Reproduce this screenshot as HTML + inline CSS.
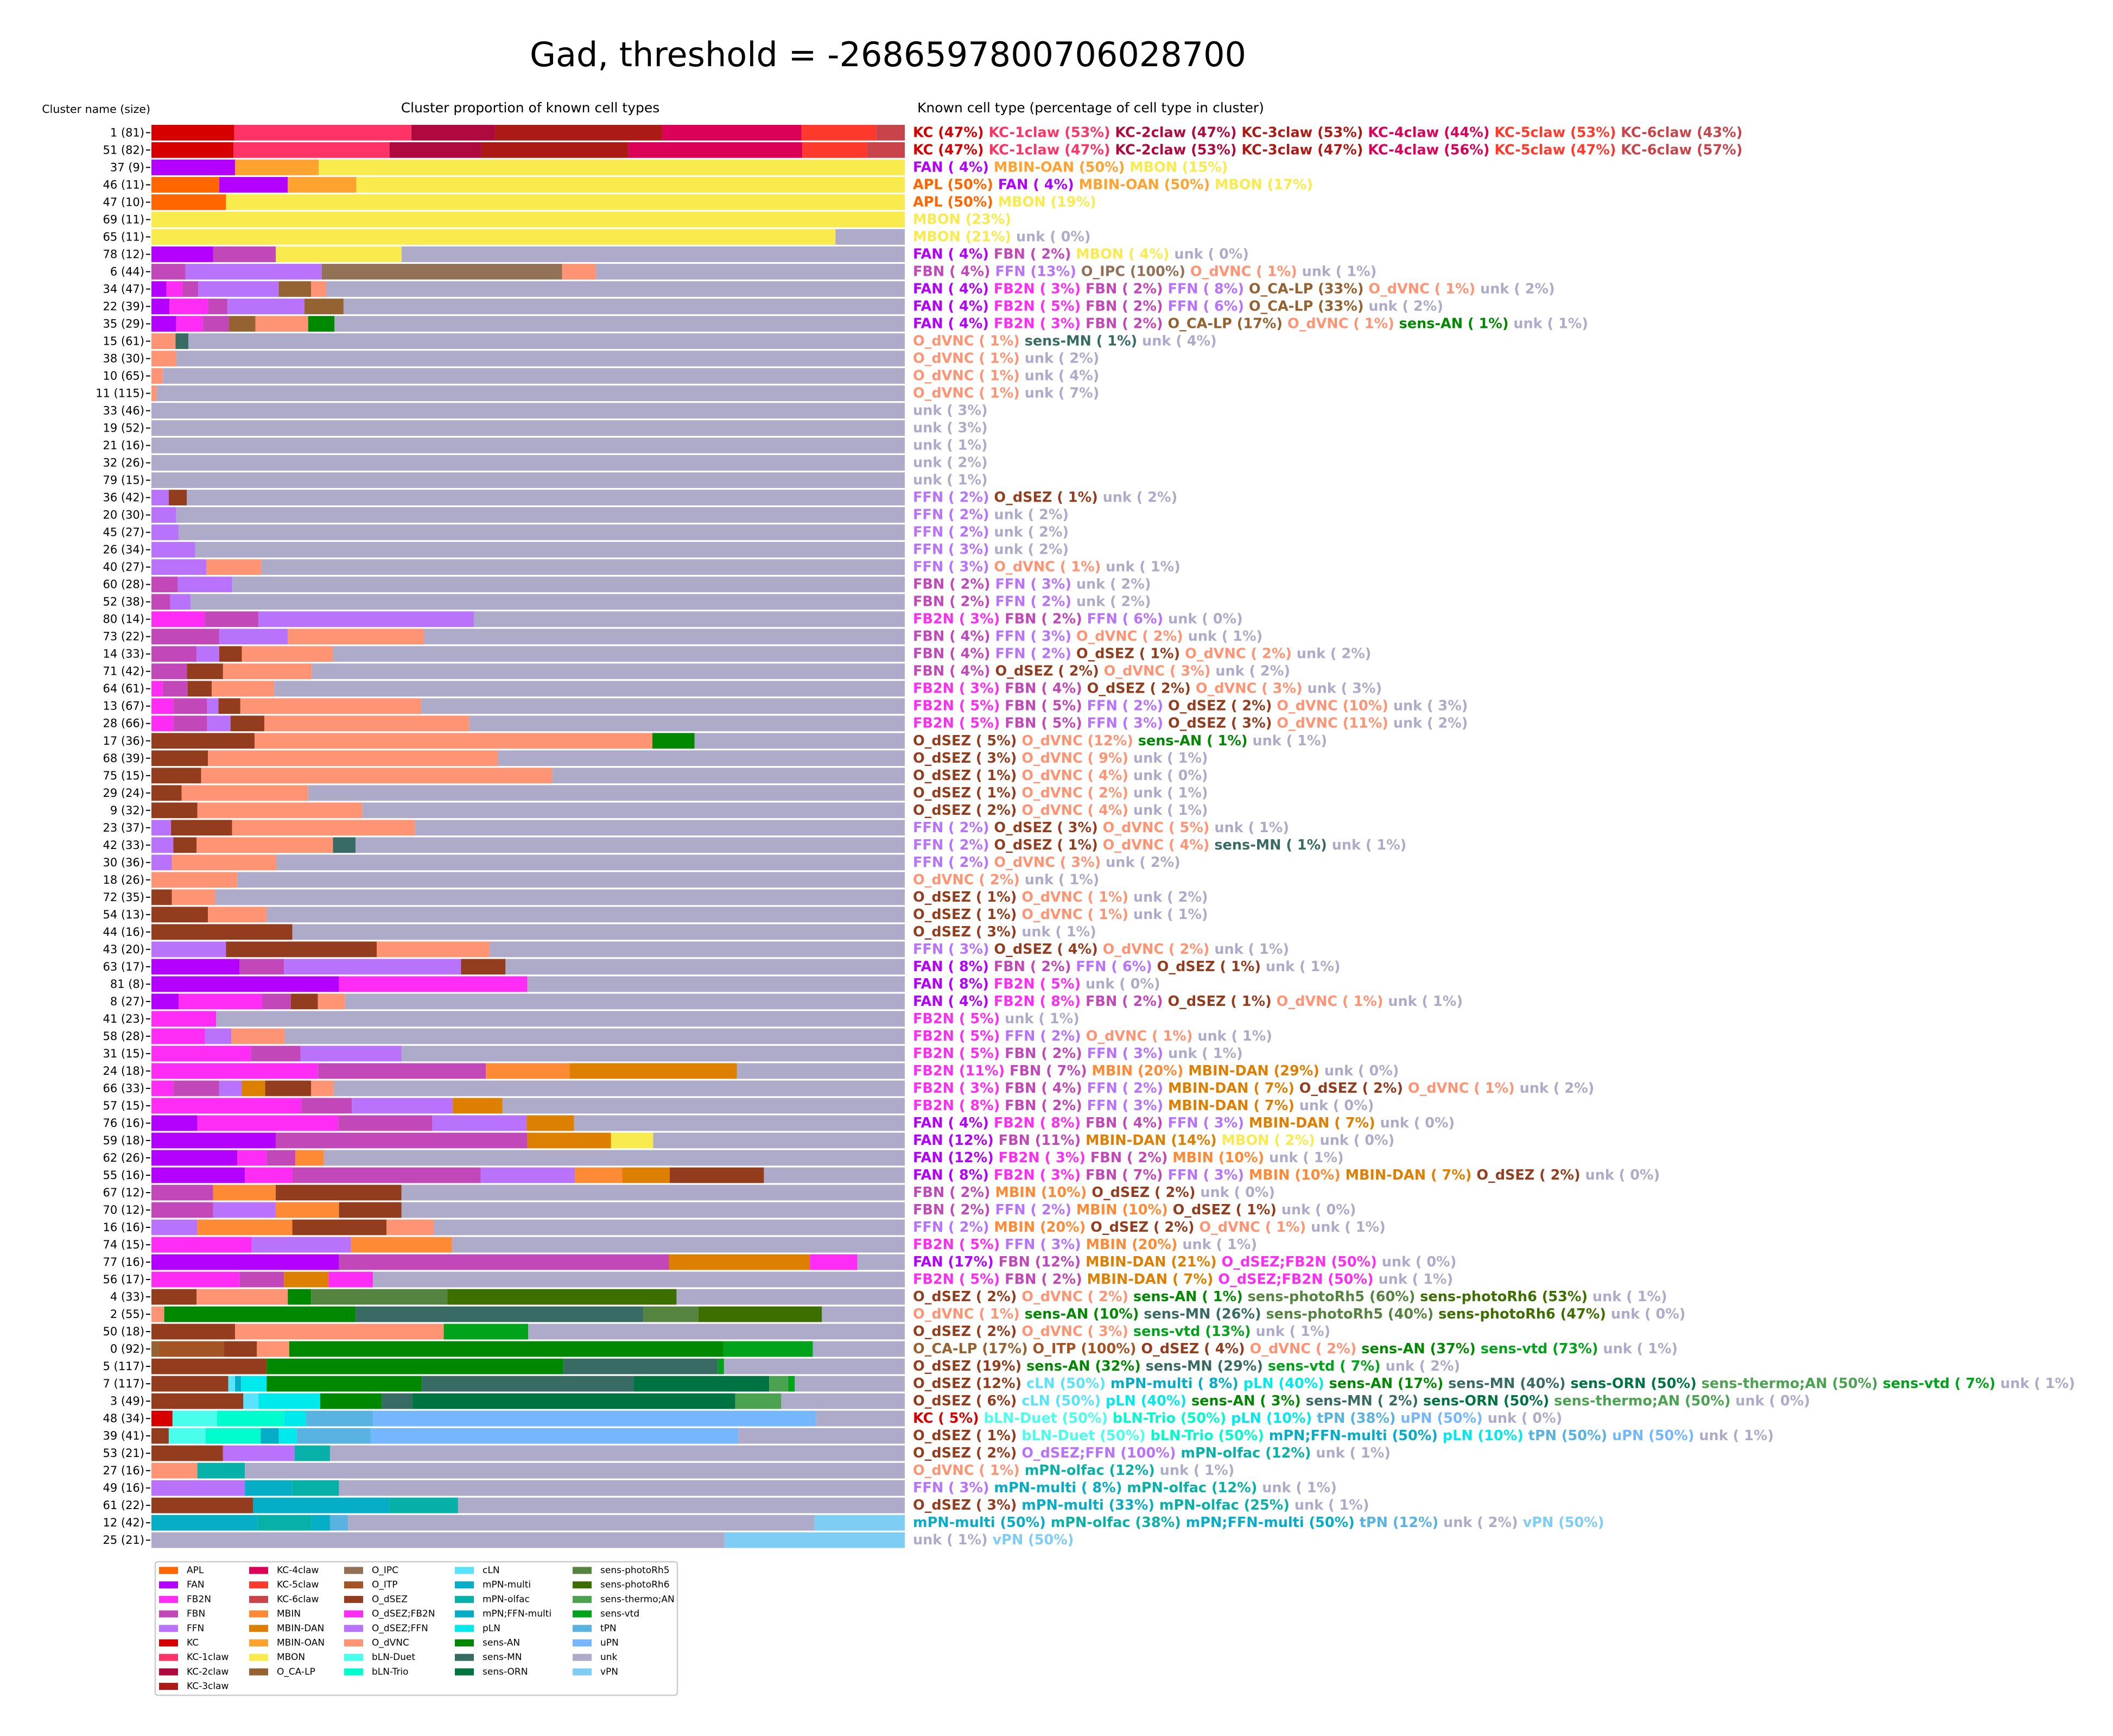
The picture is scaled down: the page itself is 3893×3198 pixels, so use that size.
<!DOCTYPE html>
<html><head><meta charset="utf-8"><style>
html,body{margin:0;padding:0;background:#fff;}
svg{display:block;font-family:"DejaVu Sans","Liberation Sans",sans-serif;}
</style></head><body>
<svg id="chart" width="3893" height="3198" viewBox="0 0 3893 3198" xmlns="http://www.w3.org/2000/svg">
<rect width="3893" height="3198" fill="#fff"/>
<text x="1636" y="122" font-size="62" text-anchor="middle">Gad, threshold = -2686597800706028700</text>
<text x="277" y="208" font-size="20.5" text-anchor="end">Cluster name (size)</text>
<text x="977" y="207" font-size="25" text-anchor="middle">Cluster proportion of known cell types</text>
<text x="1690" y="207" font-size="25">Known cell type (percentage of cell type in cluster)</text>
<g id="bars"></g>
<g id="labels"></g>
<g id="legend"></g>
</svg>
<script>
const typeColors = {"APL":"#ff6600","FAN":"#b400ff","FB2N":"#ff2cf5","FBN":"#c247b9","FFN":"#b972fc","KC":"#d60000","KC-1claw":"#ff3366","KC-2claw":"#b0093f","KC-3claw":"#ac1a15","KC-4claw":"#db0058","KC-5claw":"#ff3a2c","KC-6claw":"#c9444a","MBIN":"#ff8a36","MBIN-DAN":"#dd7f00","MBIN-OAN":"#ffa330","MBON":"#f9eb4d","O_CA-LP":"#956331","O_IPC":"#927157","O_ITP":"#a45324","O_dSEZ":"#943d1e","O_dSEZ;FB2N":"#ff2cf5","O_dSEZ;FFN":"#b972fc","O_dVNC":"#ff9474","bLN-Duet":"#4afeec","bLN-Trio":"#00fccc","cLN":"#5ae3ff","mPN-multi":"#05adc7","mPN-olfac":"#08b1a8","mPN;FFN-multi":"#05adc7","pLN":"#00eaee","sens-AN":"#008800","sens-MN":"#386b64","sens-ORN":"#007343","sens-photoRh5":"#558440","sens-photoRh6":"#3d6e00","sens-thermo;AN":"#4ba351","sens-vtd":"#00a31a","tPN":"#58b3e0","uPN":"#74b7ff","unk":"#adabc9","vPN":"#7ecdf4"};
const legendOrder = ["APL","FAN","FB2N","FBN","FFN","KC","KC-1claw","KC-2claw","KC-3claw","KC-4claw","KC-5claw","KC-6claw","MBIN","MBIN-DAN","MBIN-OAN","MBON","O_CA-LP","O_IPC","O_ITP","O_dSEZ","O_dSEZ;FB2N","O_dSEZ;FFN","O_dVNC","bLN-Duet","bLN-Trio","cLN","mPN-multi","mPN-olfac","mPN;FFN-multi","pLN","sens-AN","sens-MN","sens-ORN","sens-photoRh5","sens-photoRh6","sens-thermo;AN","sens-vtd","tPN","uPN","unk","vPN"];
const clusterNames = ["1 (81)","51 (82)","37 (9)","46 (11)","47 (10)","69 (11)","65 (11)","78 (12)","6 (44)","34 (47)","22 (39)","35 (29)","15 (61)","38 (30)","10 (65)","11 (115)","33 (46)","19 (52)","21 (16)","32 (26)","79 (15)","36 (42)","20 (30)","45 (27)","26 (34)","40 (27)","60 (28)","52 (38)","80 (14)","73 (22)","14 (33)","71 (42)","64 (61)","13 (67)","28 (66)","17 (36)","68 (39)","75 (15)","29 (24)","9 (32)","23 (37)","42 (33)","30 (36)","18 (26)","72 (35)","54 (13)","44 (16)","43 (20)","63 (17)","81 (8)","8 (27)","41 (23)","58 (28)","31 (15)","24 (18)","66 (33)","57 (15)","76 (16)","59 (18)","62 (26)","55 (16)","67 (12)","70 (12)","16 (16)","74 (15)","77 (16)","56 (17)","4 (33)","2 (55)","50 (18)","0 (92)","5 (117)","7 (117)","3 (49)","48 (34)","39 (41)","53 (21)","27 (16)","49 (16)","61 (22)","12 (42)","25 (21)"];
const clusterProportions = [
[["KC",.110],["KC-1claw",.235],["KC-2claw",.111],["KC-3claw",.222],["KC-4claw",.185],["KC-5claw",.099],["KC-6claw",.038]],
[["KC",.109],["KC-1claw",.207],["KC-2claw",.122],["KC-3claw",.195],["KC-4claw",.231],["KC-5claw",.086],["KC-6claw",.050]],
[["FAN",.111],["MBIN-OAN",.111],["MBON",.778]],
[["APL",.090],["FAN",.091],["MBIN-OAN",.091],["MBON",.728]],
[["APL",.099],["MBON",.901]],
[["MBON",1]],
[["MBON",.908]],
[["FAN",.082],["FBN",.083],["MBON",.167]],
[["FBN",.045],["FFN",.181],["O_IPC",.319],["O_dVNC",.045]],
[["FAN",.020],["FB2N",.021],["FBN",.021],["FFN",.107],["O_CA-LP",.043],["O_dVNC",.020]],
[["FAN",.024],["FB2N",.051],["FBN",.026],["FFN",.102],["O_CA-LP",.052]],
[["FAN",.033],["FB2N",.035],["FBN",.035],["O_CA-LP",.035],["O_dVNC",.070],["sens-AN",.035]],
[["O_dVNC",.032],["sens-MN",.017]],
[["O_dVNC",.033]],
[["O_dVNC",.015]],
[["O_dVNC",.007]],
[],[],[],[],[],
[["FFN",.023],["O_dSEZ",.024]],
[["FFN",.033]],
[["FFN",.036]],
[["FFN",.058]],
[["FFN",.073],["O_dVNC",.073]],
[["FBN",.035],["FFN",.072]],
[["FBN",.025],["FFN",.027]],
[["FB2N",.071],["FBN",.071],["FFN",.286]],
[["FBN",.090],["FFN",.091],["O_dVNC",.181]],
[["FBN",.060],["FFN",.030],["O_dSEZ",.030],["O_dVNC",.121]],
[["FBN",.047],["O_dSEZ",.048],["O_dVNC",.118]],
[["FB2N",.015],["FBN",.033],["O_dSEZ",.032],["O_dVNC",.083]],
[["FB2N",.029],["FBN",.045],["FFN",.015],["O_dSEZ",.029],["O_dVNC",.240]],
[["FB2N",.029],["FBN",.045],["FFN",.031],["O_dSEZ",.045],["O_dVNC",.272]],
[["O_dSEZ",.137],["O_dVNC",.528],["sens-AN",.056]],
[["O_dSEZ",.075],["O_dVNC",.385]],
[["O_dSEZ",.066],["O_dVNC",.466]],
[["O_dSEZ",.040],["O_dVNC",.168]],
[["O_dSEZ",.061],["O_dVNC",.219]],
[["FFN",.026],["O_dSEZ",.081],["O_dVNC",.243]],
[["FFN",.029],["O_dSEZ",.031],["O_dVNC",.181],["sens-MN",.030]],
[["FFN",.027],["O_dVNC",.139]],
[["O_dVNC",.114]],
[["O_dSEZ",.027],["O_dVNC",.058]],
[["O_dSEZ",.075],["O_dVNC",.078]],
[["O_dSEZ",.187]],
[["FFN",.099],["O_dSEZ",.200],["O_dVNC",.150]],
[["FAN",.117],["FBN",.059],["FFN",.235],["O_dSEZ",.059]],
[["FAN",.249],["FB2N",.250]],
[["FAN",.036],["FB2N",.111],["FBN",.038],["O_dSEZ",.036],["O_dVNC",.036]],
[["FB2N",.086]],
[["FB2N",.071],["FFN",.035],["O_dVNC",.071]],
[["FB2N",.132],["FBN",.066],["FFN",.134]],
[["FB2N",.221],["FBN",.223],["MBIN",.111],["MBIN-DAN",.222]],
[["FB2N",.029],["FBN",.061],["FFN",.030],["MBIN-DAN",.031],["O_dSEZ",.061],["O_dVNC",.030]],
[["FB2N",.199],["FBN",.067],["FFN",.134],["MBIN-DAN",.066]],
[["FAN",.061],["FB2N",.187],["FBN",.125],["FFN",.125],["MBIN-DAN",.063]],
[["FAN",.165],["FBN",.334],["MBIN-DAN",.111],["MBON",.056]],
[["FAN",.114],["FB2N",.039],["FBN",.038],["MBIN",.038]],
[["FAN",.124],["FB2N",.063],["FBN",.250],["FFN",.125],["MBIN",.063],["MBIN-DAN",.063],["O_dSEZ",.125]],
[["FBN",.082],["MBIN",.083],["O_dSEZ",.167]],
[["FBN",.082],["FFN",.083],["MBIN",.084],["O_dSEZ",.083]],
[["FFN",.061],["MBIN",.126],["O_dSEZ",.125],["O_dVNC",.063]],
[["FB2N",.133],["FFN",.132],["MBIN",.134]],
[["FAN",.249],["FBN",.438],["MBIN-DAN",.187],["O_dSEZ;FB2N",.063]],
[["FB2N",.117],["FBN",.059],["MBIN-DAN",.059],["O_dSEZ;FB2N",.059]],
[["O_dSEZ",.060],["O_dVNC",.121],["sens-AN",.031],["sens-photoRh5",.181],["sens-photoRh6",.304]],
[["O_dVNC",.017],["sens-AN",.254],["sens-MN",.382],["sens-photoRh5",.073],["sens-photoRh6",.164]],
[["O_dSEZ",.111],["O_dVNC",.277],["sens-vtd",.112]],
[["O_CA-LP",.010],["O_ITP",.086],["O_dSEZ",.044],["O_dVNC",.043],["sens-AN",.576],["sens-vtd",.119]],
[["O_dSEZ",.153],["sens-AN",.394],["sens-MN",.205],["sens-vtd",.008]],
[["O_dSEZ",.102],["cLN",.009],["mPN-multi",.008],["pLN",.034],["sens-AN",.206],["sens-MN",.281],["sens-ORN",.180],["sens-thermo;AN",.025],["sens-vtd",.009]],
[["O_dSEZ",.122],["cLN",.020],["pLN",.082],["sens-AN",.082],["sens-MN",.040],["sens-ORN",.429],["sens-thermo;AN",.061]],
[["KC",.028],["bLN-Duet",.059],["bLN-Trio",.089],["pLN",.029],["tPN",.089],["uPN",.588]],
[["O_dSEZ",.023],["bLN-Duet",.049],["bLN-Trio",.073],["mPN;FFN-multi",.024],["pLN",.024],["tPN",.098],["uPN",.488]],
[["O_dSEZ",.095],["O_dSEZ;FFN",.095],["mPN-olfac",.047]],
[["O_dVNC",.061],["mPN-olfac",.063]],
[["FFN",.124],["mPN-multi",.062],["mPN-olfac",.063]],
[["O_dSEZ",.135],["mPN-multi",.181],["mPN-olfac",.091]],
[["mPN-multi",.141],["mPN-olfac",.072],["mPN;FFN-multi",.024],["tPN",.024],["unk",.619],["vPN",.120]],
[["unk",.761],["vPN",.239]]
];
const typePercentages = [
[["KC",47],["KC-1claw",53],["KC-2claw",47],["KC-3claw",53],["KC-4claw",44],["KC-5claw",53],["KC-6claw",43]],
[["KC",47],["KC-1claw",47],["KC-2claw",53],["KC-3claw",47],["KC-4claw",56],["KC-5claw",47],["KC-6claw",57]],
[["FAN",4],["MBIN-OAN",50],["MBON",15]],
[["APL",50],["FAN",4],["MBIN-OAN",50],["MBON",17]],
[["APL",50],["MBON",19]],
[["MBON",23]],
[["MBON",21],["unk",0]],
[["FAN",4],["FBN",2],["MBON",4],["unk",0]],
[["FBN",4],["FFN",13],["O_IPC",100],["O_dVNC",1],["unk",1]],
[["FAN",4],["FB2N",3],["FBN",2],["FFN",8],["O_CA-LP",33],["O_dVNC",1],["unk",2]],
[["FAN",4],["FB2N",5],["FBN",2],["FFN",6],["O_CA-LP",33],["unk",2]],
[["FAN",4],["FB2N",3],["FBN",2],["O_CA-LP",17],["O_dVNC",1],["sens-AN",1],["unk",1]],
[["O_dVNC",1],["sens-MN",1],["unk",4]],
[["O_dVNC",1],["unk",2]],
[["O_dVNC",1],["unk",4]],
[["O_dVNC",1],["unk",7]],
[["unk",3]],[["unk",3]],[["unk",1]],[["unk",2]],[["unk",1]],
[["FFN",2],["O_dSEZ",1],["unk",2]],
[["FFN",2],["unk",2]],
[["FFN",2],["unk",2]],
[["FFN",3],["unk",2]],
[["FFN",3],["O_dVNC",1],["unk",1]],
[["FBN",2],["FFN",3],["unk",2]],
[["FBN",2],["FFN",2],["unk",2]],
[["FB2N",3],["FBN",2],["FFN",6],["unk",0]],
[["FBN",4],["FFN",3],["O_dVNC",2],["unk",1]],
[["FBN",4],["FFN",2],["O_dSEZ",1],["O_dVNC",2],["unk",2]],
[["FBN",4],["O_dSEZ",2],["O_dVNC",3],["unk",2]],
[["FB2N",3],["FBN",4],["O_dSEZ",2],["O_dVNC",3],["unk",3]],
[["FB2N",5],["FBN",5],["FFN",2],["O_dSEZ",2],["O_dVNC",10],["unk",3]],
[["FB2N",5],["FBN",5],["FFN",3],["O_dSEZ",3],["O_dVNC",11],["unk",2]],
[["O_dSEZ",5],["O_dVNC",12],["sens-AN",1],["unk",1]],
[["O_dSEZ",3],["O_dVNC",9],["unk",1]],
[["O_dSEZ",1],["O_dVNC",4],["unk",0]],
[["O_dSEZ",1],["O_dVNC",2],["unk",1]],
[["O_dSEZ",2],["O_dVNC",4],["unk",1]],
[["FFN",2],["O_dSEZ",3],["O_dVNC",5],["unk",1]],
[["FFN",2],["O_dSEZ",1],["O_dVNC",4],["sens-MN",1],["unk",1]],
[["FFN",2],["O_dVNC",3],["unk",2]],
[["O_dVNC",2],["unk",1]],
[["O_dSEZ",1],["O_dVNC",1],["unk",2]],
[["O_dSEZ",1],["O_dVNC",1],["unk",1]],
[["O_dSEZ",3],["unk",1]],
[["FFN",3],["O_dSEZ",4],["O_dVNC",2],["unk",1]],
[["FAN",8],["FBN",2],["FFN",6],["O_dSEZ",1],["unk",1]],
[["FAN",8],["FB2N",5],["unk",0]],
[["FAN",4],["FB2N",8],["FBN",2],["O_dSEZ",1],["O_dVNC",1],["unk",1]],
[["FB2N",5],["unk",1]],
[["FB2N",5],["FFN",2],["O_dVNC",1],["unk",1]],
[["FB2N",5],["FBN",2],["FFN",3],["unk",1]],
[["FB2N",11],["FBN",7],["MBIN",20],["MBIN-DAN",29],["unk",0]],
[["FB2N",3],["FBN",4],["FFN",2],["MBIN-DAN",7],["O_dSEZ",2],["O_dVNC",1],["unk",2]],
[["FB2N",8],["FBN",2],["FFN",3],["MBIN-DAN",7],["unk",0]],
[["FAN",4],["FB2N",8],["FBN",4],["FFN",3],["MBIN-DAN",7],["unk",0]],
[["FAN",12],["FBN",11],["MBIN-DAN",14],["MBON",2],["unk",0]],
[["FAN",12],["FB2N",3],["FBN",2],["MBIN",10],["unk",1]],
[["FAN",8],["FB2N",3],["FBN",7],["FFN",3],["MBIN",10],["MBIN-DAN",7],["O_dSEZ",2],["unk",0]],
[["FBN",2],["MBIN",10],["O_dSEZ",2],["unk",0]],
[["FBN",2],["FFN",2],["MBIN",10],["O_dSEZ",1],["unk",0]],
[["FFN",2],["MBIN",20],["O_dSEZ",2],["O_dVNC",1],["unk",1]],
[["FB2N",5],["FFN",3],["MBIN",20],["unk",1]],
[["FAN",17],["FBN",12],["MBIN-DAN",21],["O_dSEZ;FB2N",50],["unk",0]],
[["FB2N",5],["FBN",2],["MBIN-DAN",7],["O_dSEZ;FB2N",50],["unk",1]],
[["O_dSEZ",2],["O_dVNC",2],["sens-AN",1],["sens-photoRh5",60],["sens-photoRh6",53],["unk",1]],
[["O_dVNC",1],["sens-AN",10],["sens-MN",26],["sens-photoRh5",40],["sens-photoRh6",47],["unk",0]],
[["O_dSEZ",2],["O_dVNC",3],["sens-vtd",13],["unk",1]],
[["O_CA-LP",17],["O_ITP",100],["O_dSEZ",4],["O_dVNC",2],["sens-AN",37],["sens-vtd",73],["unk",1]],
[["O_dSEZ",19],["sens-AN",32],["sens-MN",29],["sens-vtd",7],["unk",2]],
[["O_dSEZ",12],["cLN",50],["mPN-multi",8],["pLN",40],["sens-AN",17],["sens-MN",40],["sens-ORN",50],["sens-thermo;AN",50],["sens-vtd",7],["unk",1]],
[["O_dSEZ",6],["cLN",50],["pLN",40],["sens-AN",3],["sens-MN",2],["sens-ORN",50],["sens-thermo;AN",50],["unk",0]],
[["KC",5],["bLN-Duet",50],["bLN-Trio",50],["pLN",10],["tPN",38],["uPN",50],["unk",0]],
[["O_dSEZ",1],["bLN-Duet",50],["bLN-Trio",50],["mPN;FFN-multi",50],["pLN",10],["tPN",50],["uPN",50],["unk",1]],
[["O_dSEZ",2],["O_dSEZ;FFN",100],["mPN-olfac",12],["unk",1]],
[["O_dVNC",1],["mPN-olfac",12],["unk",1]],
[["FFN",3],["mPN-multi",8],["mPN-olfac",12],["unk",1]],
[["O_dSEZ",3],["mPN-multi",33],["mPN-olfac",25],["unk",1]],
[["mPN-multi",50],["mPN-olfac",38],["mPN;FFN-multi",50],["tPN",12],["unk",2],["vPN",50]],
[["unk",1],["vPN",50]]
];

const NS = "http://www.w3.org/2000/svg";
const X0 = 279, X1 = 1667, Y0 = 230, PITCH = 32.01, BH = 28.8;
const xScale = v => X0 + v * (X1 - X0);
const yScale = i => Y0 + i * PITCH;
function mk(tag, attrs, parent) {
  const e = document.createElementNS(NS, tag);
  for (const k in attrs) e.setAttribute(k, attrs[k]);
  parent.appendChild(e);
  return e;
}
const gBars = document.getElementById('bars');
const gLab = document.getElementById('labels');
clusterNames.forEach((name, i) => {
  const y = yScale(i);
  const t = mk('text', {x: 266, y: y + BH/2, 'font-size': 21, 'text-anchor': 'end', 'dominant-baseline': 'central'}, gLab);
  
  
  t.textContent = name;
  const tk = mk('line', {x1: 269, x2: 277, y1: y + BH/2, y2: y + BH/2, stroke: '#000', 'stroke-width': 2}, gLab);
  
  
  let acc = 0;
  const segs = clusterProportions[i].slice();
  const total = segs.reduce((s, d) => s + d[1], 0);
  if (total < 0.999) segs.push(['unk', 1 - total]);
  segs.forEach(([type, v]) => {
    const r = mk('rect', {x: xScale(acc), y: y, width: Math.max(0, xScale(Math.min(1, acc + v)) - xScale(acc)), height: BH, fill: typeColors[type]}, gBars);
    
    
    acc += v;
  });
  const tx = mk('text', {x: 1682, y: y + BH/2, 'font-size': 25.5, 'font-weight': 'bold', 'dominant-baseline': 'central', style: 'white-space:pre'}, gLab);
  
  
  typePercentages[i].forEach(([type, p], j) => {
    const ts = mk('tspan', {fill: typeColors[type]}, tx);
    
    
    ts.textContent = (j ? ' ' : '') + type + ' (' + String(p).padStart(2, ' ') + '%)';
  });
});
const gLeg = document.getElementById('legend');
const box = mk('rect', {x: 286, y: 2877, width: 962, height: 246, rx: 5, fill: '#fff', stroke: '#cccccc', 'stroke-width': 2.5}, gLeg);


const colStarts = [0, 9, 17, 25, 33];
const colX = [293, 459, 634, 838, 1055];
legendOrder.forEach((type, k) => {
  let c = 0;
  for (let q = 0; q < colStarts.length; q++) if (k >= colStarts[q]) c = q;
  const r = k - colStarts[c];
  const cy = 2893 + r * 26.7;
  const g = mk('g', {}, gLeg);
  
  
  mk('rect', {x: colX[c], y: cy - 6.5, width: 35, height: 13, fill: typeColors[type]}, g);
  const t = mk('text', {x: colX[c] + 51, y: cy, 'font-size': 17, 'dominant-baseline': 'central'}, g);
  t.textContent = type;
});
</script>
</body></html>
